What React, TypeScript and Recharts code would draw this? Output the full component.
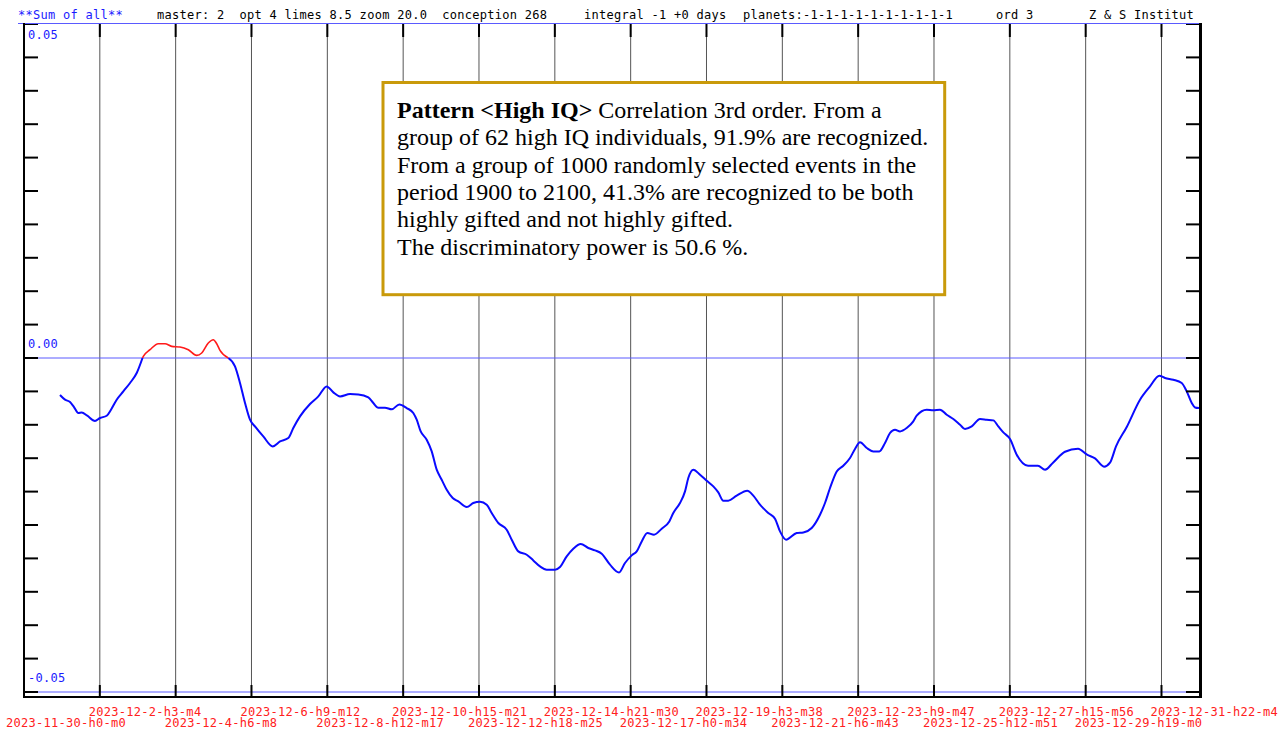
import { LineChart, Line, XAxis, YAxis, CartesianGrid, ReferenceLine } from "recharts";

// days since 2023-11-30 h0 m0
const dayOffsets = [
  1.010, 1.151, 1.291, 1.403, 1.524, 1.619, 1.776, 1.992, 2.133, 2.321,
  2.441, 2.601, 2.787, 2.975, 3.163, 3.325, 3.348, 3.536, 3.769, 3.957,
  4.145, 4.378, 4.611, 4.846, 4.987, 5.172, 5.312, 5.408, 5.500, 5.733,
  5.921, 6.061, 6.202, 6.342, 6.482, 6.715, 6.979, 7.184, 7.417, 7.557,
  7.745, 8.026, 8.259, 8.494, 8.680, 8.868, 9.148, 9.381, 9.662, 9.802,
  9.942, 10.130, 10.318, 10.532, 10.739, 10.924, 11.020, 11.132, 11.300, 11.441,
  11.581, 11.721, 11.862, 12.030, 12.187, 12.423, 12.608, 12.796, 12.984, 13.124,
  13.310, 13.545, 13.686, 13.871, 14.107, 14.292, 14.480, 14.668, 14.901, 15.041,
  15.229, 15.414, 15.622, 15.835, 16.023, 16.211, 16.444, 16.697, 16.865, 17.053,
  17.193, 17.334, 17.491, 17.679, 17.895, 18.108, 18.220, 18.408, 18.549, 18.641,
  18.782, 18.970, 19.158, 19.343, 19.483, 19.624, 19.764, 19.999, 20.297, 20.465,
  20.653, 20.886, 21.074, 21.215, 21.383, 21.683, 21.869, 22.104, 22.337, 22.477,
  22.618, 22.806, 22.991, 23.179, 23.319, 23.460, 23.648, 23.833, 24.001, 24.161,
  24.301, 24.442, 24.582, 24.770, 24.955, 25.050, 25.331, 25.516, 25.704, 25.892,
  26.078, 26.266, 26.406, 26.594, 26.827, 27.015, 27.200, 27.340, 27.481, 27.669,
  27.857, 28.174, 28.454, 28.651, 28.875, 29.212, 29.577, 29.830, 30.054, 30.307,
  30.475, 30.643, 30.944, 31.317, 31.597, 31.858, 32.018, 32.251, 32.487, 32.627,
  32.768, 32.860, 32.972,
];

// "Sum of all" curve
const sumValues = [
  -0.00554, -0.00624, -0.00659, -0.00734, -0.00823, -0.00814, -0.00864, -0.00943, -0.00898, -0.00864,
  -0.00774, -0.00624, -0.00500, -0.00374, -0.00225, 0, 0.00024, 0.00124, 0.00214, 0.00214,
  0.00174, 0.00165, 0.00124, 0.00039, 0.00075, 0.00225, 0.00274, 0.00214, 0.00114, 0,
  -0.00126, -0.00374, -0.00674, -0.00924, -0.01024, -0.01174, -0.01323, -0.01249, -0.01198, -0.01048,
  -0.00874, -0.00689, -0.00575, -0.00425, -0.00515, -0.00575, -0.00539, -0.00545, -0.00590, -0.00674,
  -0.00744, -0.00744, -0.00769, -0.00695, -0.00749, -0.00823, -0.00924, -0.01099, -0.01223, -0.01398,
  -0.01672, -0.01822, -0.01972, -0.02096, -0.02147, -0.02231, -0.02171, -0.02151, -0.02196, -0.02320,
  -0.02470, -0.02570, -0.02720, -0.02895, -0.02945, -0.03030, -0.03120, -0.03169, -0.03169, -0.03129,
  -0.02970, -0.02855, -0.02784, -0.02844, -0.02880, -0.02930, -0.03094, -0.03210, -0.03069, -0.02955,
  -0.02895, -0.02746, -0.02620, -0.02645, -0.02555, -0.02446, -0.02320, -0.02171, -0.01997, -0.01796,
  -0.01672, -0.01747, -0.01837, -0.01922, -0.02012, -0.02136, -0.02136, -0.02061, -0.01987, -0.02061,
  -0.02196, -0.02320, -0.02406, -0.02596, -0.02720, -0.02620, -0.02611, -0.02545, -0.02346, -0.02171,
  -0.01946, -0.01698, -0.01612, -0.01497, -0.01362, -0.01263, -0.01347, -0.01398, -0.01398, -0.01272,
  -0.01123, -0.01073, -0.01099, -0.01048, -0.00949, -0.00864, -0.00774, -0.00784, -0.00774, -0.00849,
  -0.00913, -0.00999, -0.01063, -0.01024, -0.00913, -0.00924, -0.00934, -0.01024, -0.01114, -0.01213,
  -0.01448, -0.01612, -0.01612, -0.01672, -0.01567, -0.01403, -0.01358, -0.01448, -0.01503, -0.01627,
  -0.01567, -0.01323, -0.01033, -0.00624, -0.00425, -0.00265, -0.00299, -0.00325, -0.00374, -0.00500,
  -0.00674, -0.00740, -0.00749,
];

const tickDays = [
  0, 2.1278, 4.2556, 6.3833, 8.5118, 10.6396, 12.7674, 14.8958,
  17.0236, 19.1514, 21.2799, 23.4076, 25.5354, 27.6639, 29.7917, 31.9194,
];
const tickLabels = [
  "2023-11-30-h0-m0", "2023-12-2-h3-m4", "2023-12-4-h6-m8", "2023-12-6-h9-m12",
  "2023-12-8-h12-m17", "2023-12-10-h15-m21", "2023-12-12-h18-m25", "2023-12-14-h21-m30",
  "2023-12-17-h0-m34", "2023-12-19-h3-m38", "2023-12-21-h6-m43", "2023-12-23-h9-m47",
  "2023-12-25-h12-m51", "2023-12-27-h15-m56", "2023-12-29-h19-m0", "2023-12-31-h22-m4",
];

const yTicks = [
  -0.05, -0.045, -0.04, -0.035, -0.03, -0.025, -0.02, -0.015, -0.01, -0.005, 0,
  0.005, 0.01, 0.015, 0.02, 0.025, 0.03, 0.035, 0.04, 0.045, 0.05,
];
const yLabels = [0.05, 0, -0.05];

const headerParts = [
  { text: "**Sum of all**", x: 18, color: "#1a1aff" },
  { text: "master: 2  opt 4 limes 8.5 zoom 20.0  conception 268", x: 157, color: "#000" },
  { text: "integral -1 +0 days", x: 584, color: "#000" },
  { text: "planets:-1-1-1-1-1-1-1-1-1-1", x: 743, color: "#000" },
  { text: "ord 3", x: 996, color: "#000" },
  { text: "Z & S Institut", x: 1089, color: "#000" },
];

const noteTitle = "Pattern <High IQ>";
const noteLines = [
  " Correlation 3rd order. From a",
  "group of 62 high IQ individuals, 91.9% are recognized.",
  "From a group of 1000 randomly selected events in the",
  "period 1900 to 2100, 41.3% are recognized to be both",
  "highly gifted and not highly gifted.",
  "The discriminatory power is 50.6 %.",
];

const MONO = "'DejaVu Sans Mono', monospace";
const PLOT_TOP = 24;

const data = dayOffsets.map((d, i) => ({
  day: d,
  neg: sumValues[i] <= 0 ? sumValues[i] : null,
  pos: sumValues[i] >= 0 ? sumValues[i] : null,
}));

const XTick = (props: any) => {
  const { x, y, payload } = props;
  const idx = tickDays.indexOf(payload.value);
  const upper = idx % 2 === 1;
  return (
    <g>
      {idx > 0 && <line x1={x} x2={x} y1={PLOT_TOP} y2={PLOT_TOP + 13} stroke="#000" strokeWidth={2} />}
      <line x1={x} x2={x} y1={y - 7} y2={y + 5} stroke="#000" strokeWidth={2} />
      <text
        x={idx === 0 ? x - 18 : x - 11}
        y={upper ? y + 24 : y + 35}
        fill="#ff2020"
        fontFamily={MONO}
        fontSize={12}
        letterSpacing={0.28}
        textAnchor="start"
      >
        {tickLabels[idx]}
      </text>
    </g>
  );
};

const YTick = (props: any) => {
  const { x, y, payload } = props;
  const v = payload.value;
  const lab = yLabels.find((l) => Math.abs(l - v) < 1e-9);
  if (lab === undefined) return <g />;
  return (
    <text x={x} y={v > 0.04 ? y + 15 : y - 10} fill="#1a1aff" fontFamily={MONO} fontSize={12} letterSpacing={0.28} textAnchor="start">
      {lab.toFixed(2)}
    </text>
  );
};

export default function App() {
  return (
    <div style={{ position: "absolute", left: 0, top: 0, width: 1287, height: 731, background: "#fff" }}>
      <LineChart width={1287} height={731} data={data} margin={{ top: PLOT_TOP, right: 87, left: 24, bottom: 0 }}>
        <CartesianGrid horizontal={false} stroke="#555" strokeWidth={1} />
        <XAxis
          dataKey="day"
          type="number"
          domain={[0, 33]}
          ticks={tickDays}
          interval={0}
          allowDataOverflow
          height={39}
          axisLine={false}
          tickLine={false}
          tickSize={0}
          tickMargin={0}
          tick={<XTick />}
        />
        <YAxis
          type="number"
          domain={[-0.05, 0.05]}
          ticks={yTicks}
          interval={0}
          allowDataOverflow
          mirror
          axisLine={false}
          tickSize={14}
          tickMargin={-10}
          tickLine={{ stroke: "#000", strokeWidth: 2 }}
          tick={<YTick />}
        />
        <YAxis
          yAxisId="right"
          orientation="right"
          type="number"
          domain={[-0.05, 0.05]}
          ticks={yTicks}
          interval={0}
          allowDataOverflow
          mirror
          axisLine={false}
          tickSize={14}
          tickLine={{ stroke: "#000", strokeWidth: 2 }}
          tick={() => <g />}
        />
        <ReferenceLine y={0} stroke="#5a5aff" strokeWidth={1} />
        <ReferenceLine y={-0.05} stroke="#5a5aff" strokeWidth={1} />
        <Line type="monotone" dataKey="neg" stroke="#0a0aff" strokeWidth={2} dot={false} isAnimationActive={false} connectNulls={false} />
        <Line type="monotone" dataKey="pos" stroke="#ff1a1a" strokeWidth={1.6} dot={false} isAnimationActive={false} connectNulls={false} />
      </LineChart>
      <svg width={1287} height={731} style={{ position: "absolute", left: 0, top: 0, pointerEvents: "none" }}>
        {headerParts.map((h) => (
          <text key={h.text} x={h.x} y={19} fill={h.color} fontFamily={MONO} fontSize={12} letterSpacing={0.28} style={{ whiteSpace: "pre" }}>
            {h.text}
          </text>
        ))}
        <line x1={18} x2={1200} y1={23.5} y2={23.5} stroke="#5a5aff" strokeWidth={1} />
        <line x1={24} x2={24} y1={23} y2={698} stroke="#000" strokeWidth={2} />
        <line x1={1200.5} x2={1200.5} y1={23} y2={698} stroke="#000" strokeWidth={3} />
        <line x1={23} x2={1202} y1={697} y2={697} stroke="#000" strokeWidth={2} />
        <rect x={383} y={82.5} width={561.7} height={212.2} fill="#fff" stroke="#c99a0a" strokeWidth={3} />
        <text fontFamily="'Liberation Serif', 'Times New Roman', serif" fontSize={24} fill="#000" style={{ whiteSpace: "pre" }}>
          {noteLines.map((line, i) => (
            <tspan key={i} x={i === 0 ? undefined : 397} y={117.7 + i * 27.4}>
              {i === 0 ? (
                <>
                  <tspan x={397} fontWeight="bold">{noteTitle}</tspan>
                  <tspan>{line}</tspan>
                </>
              ) : (
                line
              )}
            </tspan>
          ))}
        </text>
      </svg>
    </div>
  );
}
